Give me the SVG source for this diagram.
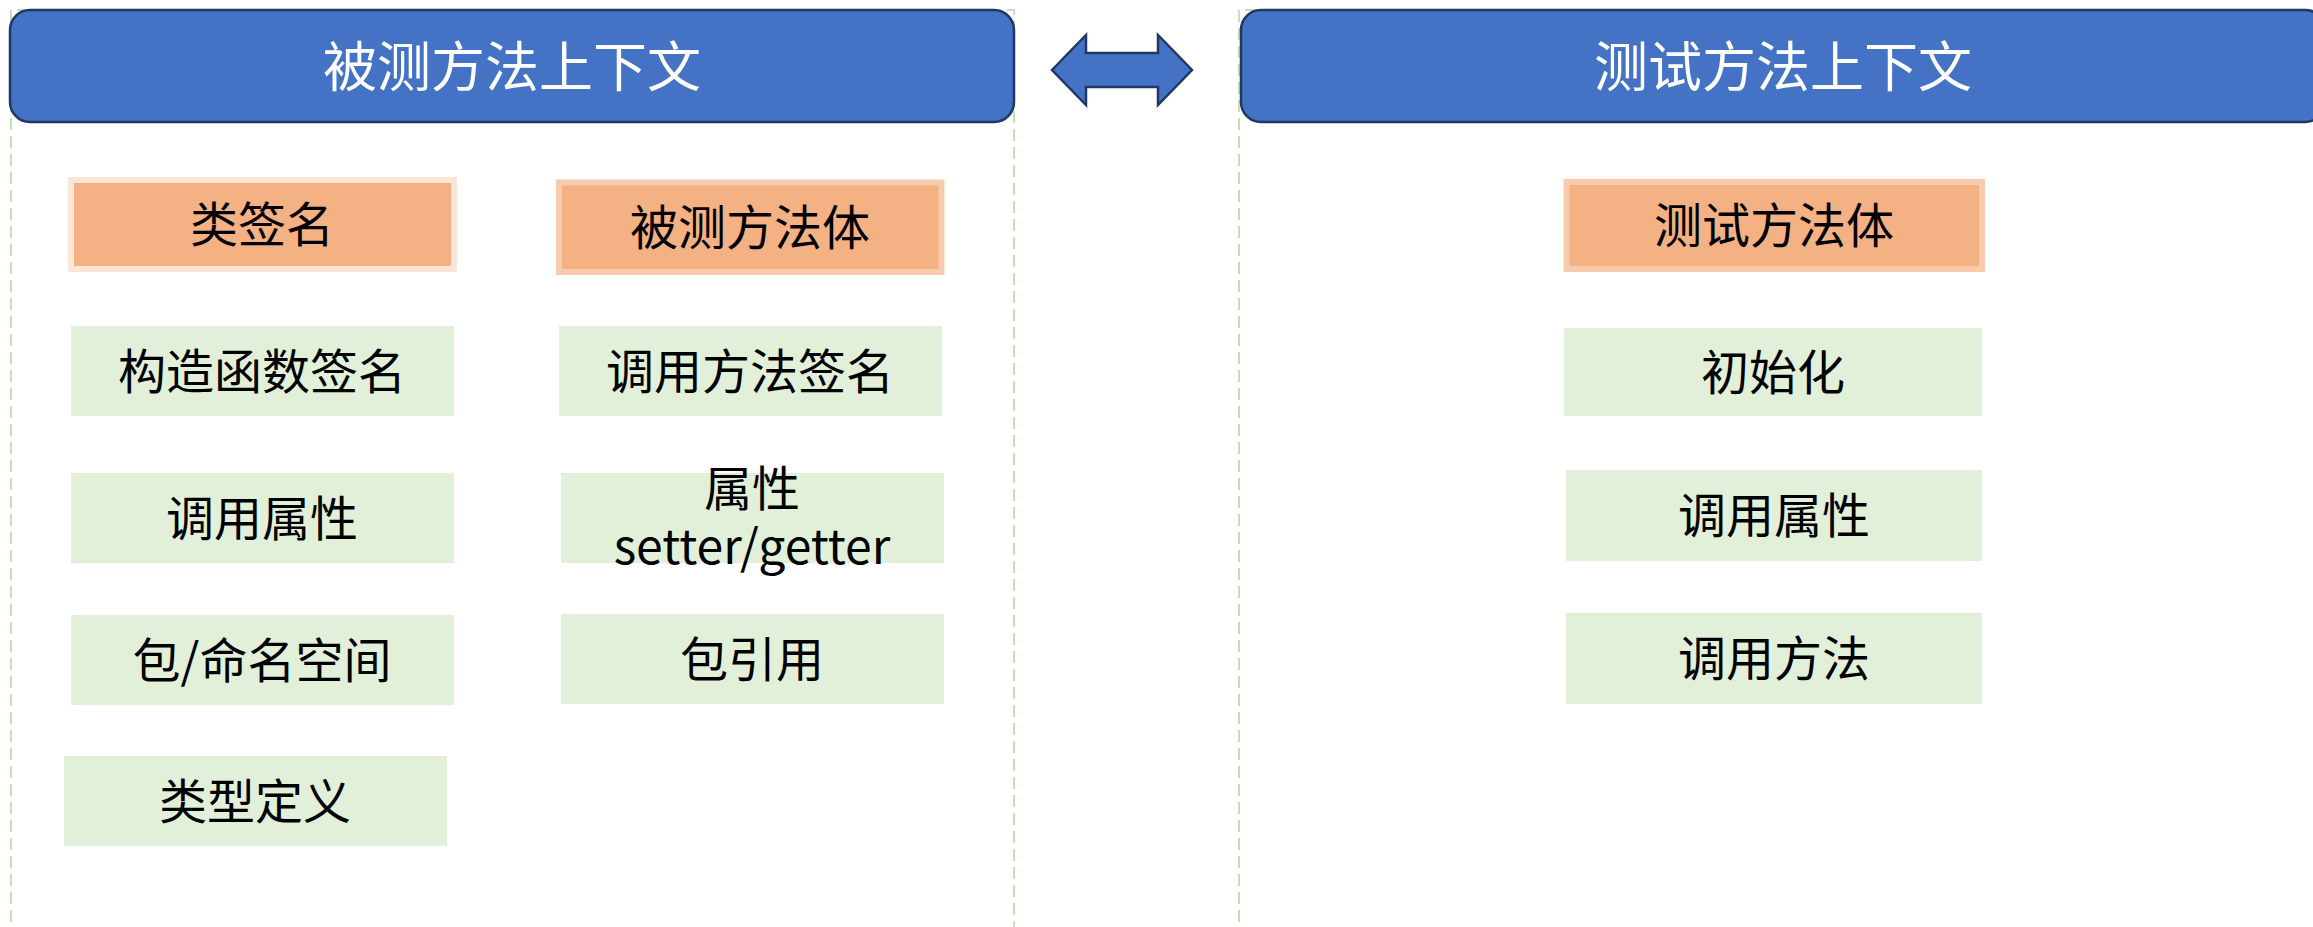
<svg xmlns="http://www.w3.org/2000/svg" width="2313" height="927" viewBox="0 0 2313 927">
  <style>
    .frame { fill: none; stroke: #C5E0B4; stroke-width: 2; stroke-dasharray: 12 6; }
    .header { fill: #4472C4; stroke: #1F3864; stroke-width: 2.5; }
    .htxt { font-family: "Noto Sans CJK SC", "Noto Sans", sans-serif; font-size: 54px; fill: #FFFFFF; text-anchor: middle; }
    .ttl1 { fill: #F4B183; stroke: #FBE5D6; stroke-width: 6; }
    .ttl2 { fill: #F4B183; stroke: #F8CBAD; stroke-width: 6; }
    .item { fill: #E2F0D9; }
    .txt { font-family: "Noto Sans CJK SC", "Noto Sans", sans-serif; font-size: 48px; fill: #000000; text-anchor: middle; }
    .arrow { fill: #4472C4; stroke: #1F3864; stroke-width: 2.5; stroke-linejoin: miter; }
  </style>
  <rect width="2313" height="927" fill="#FFFFFF"/>

  <g id="frame-left">
    <path class="frame" d="M11 940 V10 H1014 V940"/>
  </g>
  <g id="frame-right">
    <path class="frame" d="M1239 940 V10 H2330"/>
  </g>

  <g id="header-left">
    <rect class="header" x="10" y="10" width="1004" height="112" rx="20" ry="20"/>
    <text class="htxt" x="512" y="87">被测方法上下文</text>
  </g>
  <g id="header-right">
    <rect class="header" x="1241" y="10" width="1084" height="112" rx="20" ry="20"/>
    <text class="htxt" x="1783" y="87">测试方法上下文</text>
  </g>

  <g id="connectors">
    <polygon class="arrow" points="1052,70 1086,35 1086,53 1158,53 1158,35 1192,70 1158,105 1158,87 1086,87 1086,105"/>
  </g>

  <g id="n-class-sig">
    <rect class="ttl1" x="71" y="180" width="383" height="89"/>
    <text class="txt" x="262" y="242">类签名</text>
  </g>
  <g id="n-method-body">
    <rect class="ttl2" x="559" y="182.5" width="382.5" height="89.5"/>
    <text class="txt" x="750" y="245">被测方法体</text>
  </g>
  <g id="n-ctor-sig">
    <rect class="item" x="71" y="326" width="383" height="90"/>
    <text class="txt" x="262" y="389">构造函数签名</text>
  </g>
  <g id="n-call-method-sig">
    <rect class="item" x="559" y="326" width="383" height="90"/>
    <text class="txt" x="750" y="389">调用方法签名</text>
  </g>
  <g id="n-call-prop-left">
    <rect class="item" x="71" y="473" width="383" height="90"/>
    <text class="txt" x="262" y="536">调用属性</text>
  </g>
  <g id="n-prop-setget">
    <rect class="item" x="561" y="473" width="383" height="90"/>
    <text class="txt" x="752" y="506"><tspan x="752" y="506">属性</tspan><tspan x="752" y="564">setter/getter</tspan></text>
  </g>
  <g id="n-namespace">
    <rect class="item" x="71" y="615" width="383" height="90"/>
    <text class="txt" x="262" y="678">包/命名空间</text>
  </g>
  <g id="n-pkg-ref">
    <rect class="item" x="561" y="614" width="383" height="90"/>
    <text class="txt" x="752" y="677">包引用</text>
  </g>
  <g id="n-type-def">
    <rect class="item" x="64" y="756" width="383" height="90"/>
    <text class="txt" x="255" y="819">类型定义</text>
  </g>

  <g id="n-test-body">
    <rect class="ttl2" x="1566.5" y="182" width="415.5" height="87"/>
    <text class="txt" x="1774" y="243">测试方法体</text>
  </g>
  <g id="n-init">
    <rect class="item" x="1564" y="328" width="418" height="88"/>
    <text class="txt" x="1773" y="390">初始化</text>
  </g>
  <g id="n-call-prop-right">
    <rect class="item" x="1566" y="470" width="416" height="91"/>
    <text class="txt" x="1774" y="533">调用属性</text>
  </g>
  <g id="n-call-method">
    <rect class="item" x="1566" y="613" width="416" height="91"/>
    <text class="txt" x="1774" y="676">调用方法</text>
  </g>
</svg>
